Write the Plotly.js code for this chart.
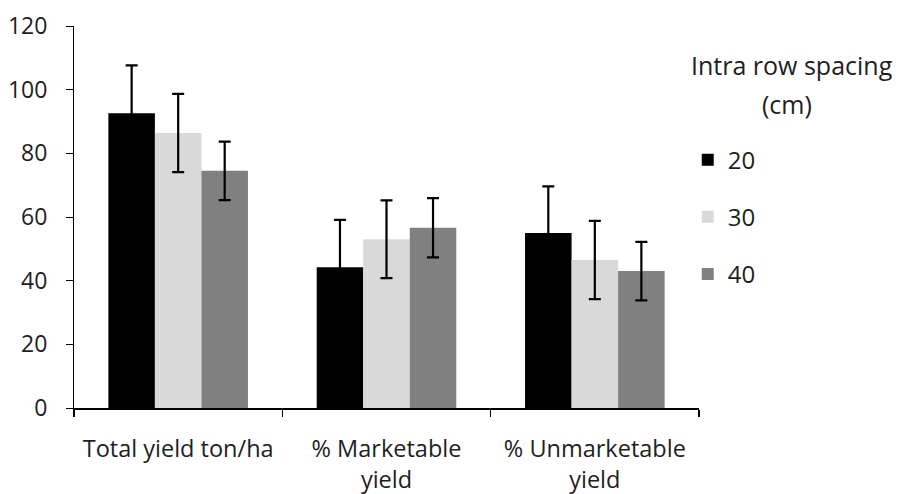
<!DOCTYPE html>
<html>
<head>
<meta charset="utf-8">
<script src="https://cdn.plot.ly/plotly-3.0.1.min.js"></script>
<style>html,body{margin:0;padding:0;background:#fff;}#chart{width:898px;height:494px;}</style>
</head>
<body>
<div id="chart"></div>
<script>
const categories = ["Total yield ton/ha", "% Marketable<br>yield", "% Unmarketable<br>yield"];
const seriesNames = ["20", "30", "40"];
const values20 = [92.6, 44.2, 55.0];
const values30 = [86.4, 53.0, 46.5];
const values40 = [74.5, 56.6, 43.0];
const errors20 = [15.0, 14.9, 14.6];
const errors30 = [12.3, 12.2, 12.3];
const errors40 = [9.2, 9.3, 9.2];
const colors = ["#000000", "#d9d9d9", "#808080"];
const legendTitleLines = ["Intra row spacing", "(cm)"];

const allValues = [values20, values30, values40];
const allErrors = [errors20, errors30, errors40];

const FONT = "'Open Sans', 'Noto Sans', sans-serif";
const TXT = "#1e1e1e";

const traces = seriesNames.map((name, i) => ({
  type: "bar",
  name: name,
  x: categories,
  y: allValues[i],
  legendgroup: "g" + i,
  marker: {color: colors[i], line: {width: 0}},
  error_y: {type: "data", array: allErrors[i], visible: true, color: "#000000", thickness: 2.2, width: 6}
}));

const layout = {
  width: 898, height: 494,
  margin: {l: 74, r: 199, t: 26, b: 86},
  paper_bgcolor: "#ffffff", plot_bgcolor: "#ffffff",
  font: {family: FONT, size: 23, color: TXT},
  barmode: "group",
  bargap: 0.33,
  bargroupgap: 0,
  showlegend: true,
  legend: {
    x: 0.982, xanchor: "left", y: 0.708, yanchor: "top",
    font: {family: FONT, size: 24, color: TXT},
    tracegroupgap: 23,
    traceorder: "grouped",
    bgcolor: "rgba(0,0,0,0)"
  },
  annotations: [
    {text: legendTitleLines[0], xref: "paper", yref: "paper", x: 1.149, y: 0.898,
     xanchor: "center", yanchor: "middle", showarrow: false, font: {family: FONT, size: 25, color: TXT}},
    {text: legendTitleLines[1], xref: "paper", yref: "paper", x: 1.141, y: 0.795,
     xanchor: "center", yanchor: "middle", showarrow: false, font: {family: FONT, size: 25, color: TXT}}
  ],
  xaxis: {
    type: "category",
    showline: true, linecolor: "#000000", linewidth: 2,
    ticks: "outside", tickson: "boundaries", ticklen: 7, tickcolor: "#000000", tickwidth: 1.5,
    showgrid: false, zeroline: false,
    ticklabelstandoff: 19,
    tickfont: {family: FONT, size: 23.5, color: TXT}
  },
  yaxis: {
    range: [0, 120], dtick: 20,
    showline: true, linecolor: "#000000", linewidth: 1,
    ticks: "outside", ticklen: 7, tickcolor: "#000000", tickwidth: 1,
    showgrid: false, zeroline: false,
    ticklabelstandoff: 14,
    tickfont: {family: FONT, size: 23, color: TXT}
  }
};

Plotly.newPlot("chart", traces, layout, {displayModeBar: false, staticPlot: true});
</script>
</body>
</html>
